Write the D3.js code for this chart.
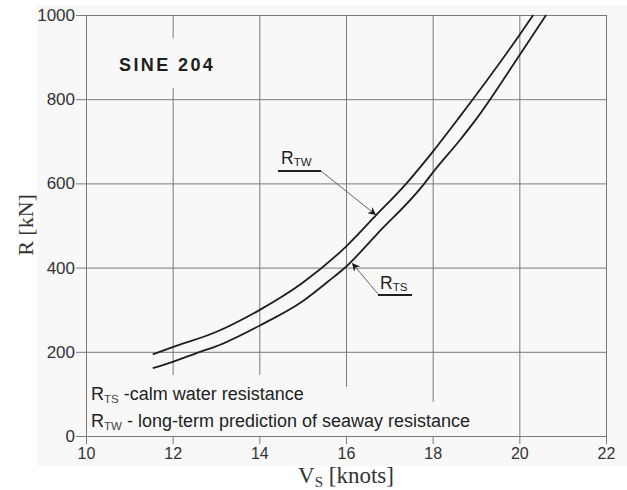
<!DOCTYPE html>
<html>
<head>
<meta charset="utf-8">
<script src="https://cdn.jsdelivr.net/npm/d3@7/dist/d3.min.js"></script>
<style>
  html, body { margin: 0; padding: 0; background: #ffffff; }
  svg { display: block; }
</style>
</head>
<body>
<svg id="chart" width="627" height="490"></svg>
<script>
// ---- data ----
const xTicks = [10, 12, 14, 16, 18, 20, 22];
const yTicks = [0, 200, 400, 600, 800, 1000];

// R_TW : long-term prediction of seaway resistance
const twSpeed = [11.54, 12.0, 13.0, 14.0, 15.0, 16.0, 16.7, 17.36, 18.0, 18.6, 20.0, 20.32];
const twRes   = [194, 211, 247, 299, 364, 450, 525, 596, 675, 755, 952, 1000];

// R_TS : calm water resistance
const tsSpeed = [11.54, 12.0, 12.63, 13.0, 14.0, 15.0, 15.6, 16.0, 16.7, 17.78, 18.02, 18.63, 19.0, 20.0, 20.62];
const tsRes   = [161, 176, 200, 213, 262, 320, 368, 402, 478, 596, 628, 703, 752, 904, 1000];

const chartTitle = "SINE 204";
const legendLines = [
  { main: "R", sub: "TS", rest: " -calm water resistance" },
  { main: "R", sub: "TW", rest: " - long-term prediction of seaway resistance" }
];

// ---- layout ----
const svg = d3.select("#chart");
const L = 86, R = 606, T = 15, B = 436;
const bg = "#f8f8f8";
const gridCol = "#7a7a7a";
const ink = "#1e1e1e";
const x = d3.scaleLinear().domain([10, 22]).range([L, R]);
const y = d3.scaleLinear().domain([0, 1000]).range([B, T]);

// light background panel
svg.append("rect").attr("x", 37).attr("y", 5).attr("width", 590).attr("height", 461).attr("fill", bg);

// grid
const gx = svg.append("g").attr("transform", `translate(0,${B})`)
  .call(d3.axisBottom(x).tickValues(xTicks.slice(1)).tickSize(-(B - T)).tickFormat(""));
gx.select(".domain").remove();
gx.selectAll("line").attr("stroke", gridCol).attr("stroke-width", 1);

const gy = svg.append("g").attr("transform", `translate(${L},0)`)
  .call(d3.axisLeft(y).tickValues(yTicks.slice(1)).tickSize(-(R - L)).tickFormat(""));
gy.select(".domain").remove();
gy.selectAll("line").attr("stroke", gridCol).attr("stroke-width", 1);

// masks behind text boxes
const masks = [
  [100, 38, 140, 50],
  [88, 375, 225, 61],
  [88, 387, 265, 49],
  [88, 402, 395, 34]
];
svg.selectAll("rect.mask").data(masks).join("rect").attr("class", "mask")
  .attr("x", d => d[0]).attr("y", d => d[1]).attr("width", d => d[2]).attr("height", d => d[3])
  .attr("fill", bg);

// axes
const ax = svg.append("g").attr("transform", `translate(0,${B})`)
  .call(d3.axisBottom(x).tickValues(xTicks).tickSize(8).tickSizeOuter(0).tickPadding(4).tickFormat(d3.format("d")));
ax.select(".domain").attr("stroke", gridCol);
ax.selectAll("line").attr("stroke", gridCol);
ax.selectAll("text").attr("font-family", "'Liberation Sans', Arial, sans-serif")
  .attr("font-size", 16).attr("fill", "#333");

const ay = svg.append("g").attr("transform", `translate(${L},0)`)
  .call(d3.axisLeft(y).tickValues(yTicks).tickSize(10).tickSizeOuter(0).tickPadding(1).tickFormat(d3.format("d")));
ay.select(".domain").attr("stroke", gridCol);
ay.selectAll("line").attr("stroke", gridCol);
ay.selectAll("text").attr("font-family", "'Liberation Sans', Arial, sans-serif")
  .attr("font-size", 17).attr("fill", "#333");

// curves
const line = d3.line().x(d => x(d[0])).y(d => y(d[1])).curve(d3.curveMonotoneX);
[[twSpeed, twRes], [tsSpeed, tsRes]].forEach(([s, r]) => {
  svg.append("path").datum(s.map((v, i) => [v, r[i]]))
    .attr("d", line).attr("fill", "none").attr("stroke", ink).attr("stroke-width", 1.8);
});

// title
svg.append("text").attr("x", 119).attr("y", 71).text(chartTitle)
  .attr("font-family", "'Liberation Sans', Arial, sans-serif").attr("font-weight", "bold")
  .attr("font-size", 18).attr("letter-spacing", 2.4).attr("fill", ink);

// axis titles
svg.append("text").attr("transform", "translate(33,225) rotate(-90)").attr("text-anchor", "middle")
  .attr("font-family", "'Liberation Serif', 'Times New Roman', serif").attr("font-size", 22).attr("fill", "#333")
  .text("R [kN]");
const xl = svg.append("text").attr("x", 346).attr("y", 483).attr("text-anchor", "middle")
  .attr("font-family", "'Liberation Serif', 'Times New Roman', serif").attr("font-size", 23).attr("fill", "#333");
xl.append("tspan").text("V");
xl.append("tspan").attr("font-size", 15).attr("dy", 4).text("S");
xl.append("tspan").attr("dy", -4).text(" [knots]");

// legend text
legendLines.forEach((d, i) => {
  const t = svg.append("text").attr("x", 91).attr("y", 400 + i * 27)
    .attr("font-family", "'Liberation Sans', Arial, sans-serif").attr("font-size", 18).attr("fill", "#222");
  t.append("tspan").text(d.main);
  t.append("tspan").attr("font-size", 11.5).attr("dy", 3).attr("fill", "#444").text(d.sub);
  t.append("tspan").attr("dy", -3).text(d.rest);
});

// annotations
const defs = svg.append("defs");
defs.append("marker").attr("id", "ah").attr("viewBox", "0 0 10 10").attr("refX", 10).attr("refY", 5)
  .attr("markerWidth", 11).attr("markerHeight", 8).attr("markerUnits", "userSpaceOnUse").attr("orient", "auto")
  .append("path").attr("d", "M0,0 L10,5 L0,10 L3,5 Z").attr("fill", ink);

function label(xp, yp, sub, ulx1, ulx2, uly, ax1, ay1, ax2, ay2) {
  const t = svg.append("text").attr("x", xp).attr("y", yp)
    .attr("font-family", "'Liberation Sans', Arial, sans-serif").attr("font-size", 17.5).attr("fill", "#222");
  t.append("tspan").text("R");
  t.append("tspan").attr("font-size", 11.5).attr("dy", 2).text(sub);
  svg.append("line").attr("x1", ulx1).attr("x2", ulx2).attr("y1", uly).attr("y2", uly)
    .attr("stroke", ink).attr("stroke-width", 2);
  svg.append("line").attr("x1", ax1).attr("y1", ay1).attr("x2", ax2).attr("y2", ay2)
    .attr("stroke", "#555").attr("stroke-width", 0.9).attr("marker-end", "url(#ah)");
}
label(281, 164, "TW", 278, 321, 171, 321, 171, 376, 215);
label(380, 289, "TS", 378, 412, 295, 378, 294, 352, 263);
</script>
</body>
</html>
